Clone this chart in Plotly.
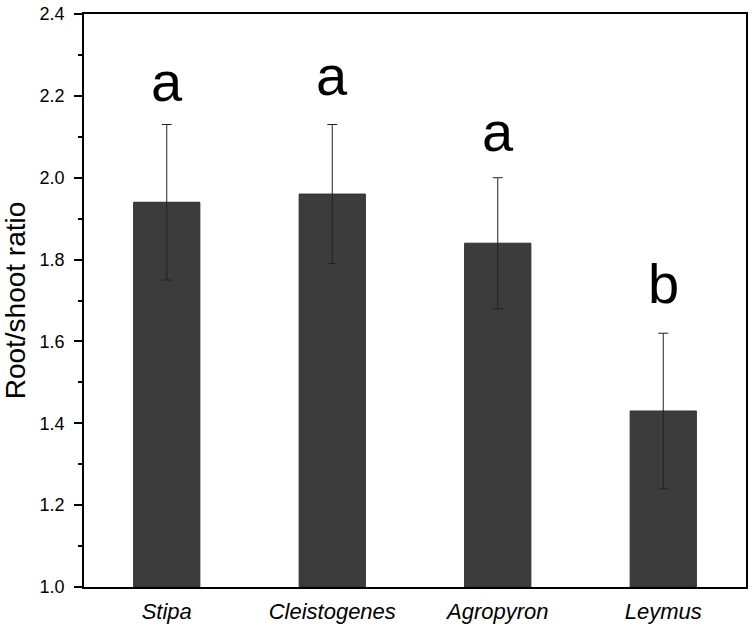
import plotly.graph_objects as go

species = ["Stipa", "Cleistogenes", "Agropyron", "Leymus"]
ratio = [1.94, 1.96, 1.84, 1.43]
err = [0.19, 0.17, 0.16, 0.19]
letters = ["a", "a", "a", "b"]
letter_y = [2.183, 2.198, 2.061, 1.69]
ytick_vals = [1.0, 1.2, 1.4, 1.6, 1.8, 2.0, 2.2, 2.4]
ytick_text = ["1.0", "1.2", "1.4", "1.6", "1.8", "2.0", "2.2", "2.4"]

fig = go.Figure()
fig.add_trace(go.Bar(
    x=species, y=[r - 1.0 for r in ratio], base=1.0,
    marker=dict(color="#3c3c3c", line=dict(color="#2e2e2e", width=1)),
    error_y=dict(type="data", array=err, visible=True, color="#222222",
                 thickness=1, width=5),
    width=0.4,
))

for s, l, yy in zip(species, letters, letter_y):
    fig.add_annotation(x=s, y=yy, text=l, showarrow=False, yanchor="bottom",
                       yshift=-12,
                       font=dict(family="Arial, Liberation Sans", size=56, color="black"))

fig.update_layout(
    width=752, height=630,
    margin=dict(l=84, r=6, t=14, b=43, autoexpand=False),
    plot_bgcolor="white", paper_bgcolor="white",
    showlegend=False,
    font=dict(family="Arial, Liberation Sans", color="black"),
)
fig.update_xaxes(
    range=[-0.5, 3.5], showline=True, linecolor="black", linewidth=1.5,
    mirror=True, ticks="", showgrid=False, automargin=False,
    tickfont=dict(size=22, style="italic"),
    ticklabelstandoff=4,
)
fig.update_yaxes(
    range=[1.0, 2.4], showline=True, linecolor="black", linewidth=1.5,
    mirror=True, ticks="outside", ticklen=8, tickwidth=1.5, tickcolor="black",
    tickvals=ytick_vals, ticktext=ytick_text, showgrid=False, zeroline=False,
    tickfont=dict(size=18), ticklabelstandoff=6, automargin=False,
    minor=dict(ticks="outside", ticklen=4, tickwidth=1.5, tickcolor="black", dtick=0.1, showgrid=False),
    title=dict(text="Root/shoot ratio", font=dict(size=28), standoff=8),
)

fig.write_html("out.html", config={"displayModeBar": False},
               post_script="document.body.style.margin='0';document.body.style.overflow='hidden';")
